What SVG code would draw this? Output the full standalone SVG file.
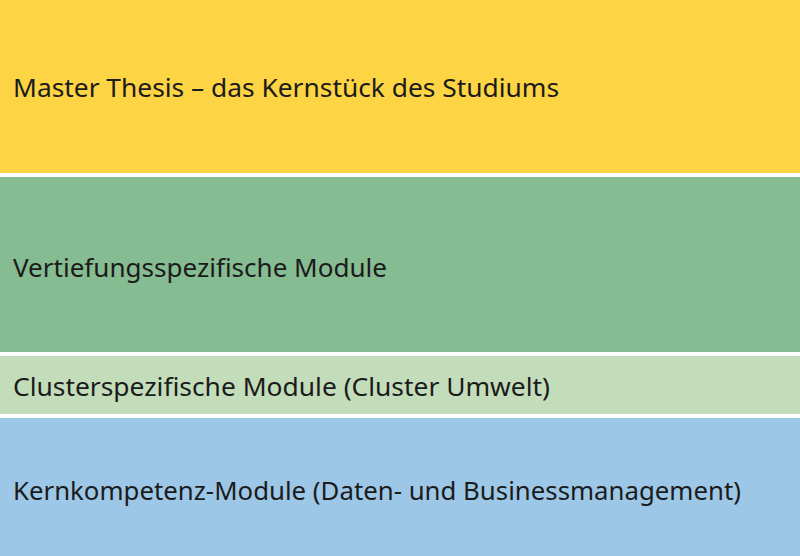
<svg xmlns="http://www.w3.org/2000/svg" width="800" height="556" viewBox="0 0 800 556">
<style>
.t{font-family:"Noto Sans","DejaVu Sans",sans-serif;font-size:25px;fill:#1b1b1b;}
</style>
<rect x="0" y="0" width="800" height="556" fill="#ffffff"/>
<g id="thesis"><rect x="0" y="0" width="800" height="173" fill="#fdd443"/><text class="t" x="13" y="97" textLength="546" lengthAdjust="spacingAndGlyphs">Master Thesis – das Kernstück des Studiums</text></g>
<g id="vertiefung"><rect x="0" y="177" width="800" height="175" fill="#86bc91"/><text class="t" x="13" y="277" textLength="374" lengthAdjust="spacingAndGlyphs">Vertiefungsspezifische Module</text></g>
<g id="cluster"><rect x="0" y="356" width="800" height="58" fill="#c3ddba"/><text class="t" x="13" y="396" textLength="537" lengthAdjust="spacingAndGlyphs">Clusterspezifische Module (Cluster Umwelt)</text></g>
<g id="kern"><rect x="0" y="418" width="800" height="138" fill="#9dc7e6"/><text class="t" x="13" y="500" textLength="728" lengthAdjust="spacingAndGlyphs">Kernkompetenz-Module (Daten- und Businessmanagement)</text></g>
</svg>
